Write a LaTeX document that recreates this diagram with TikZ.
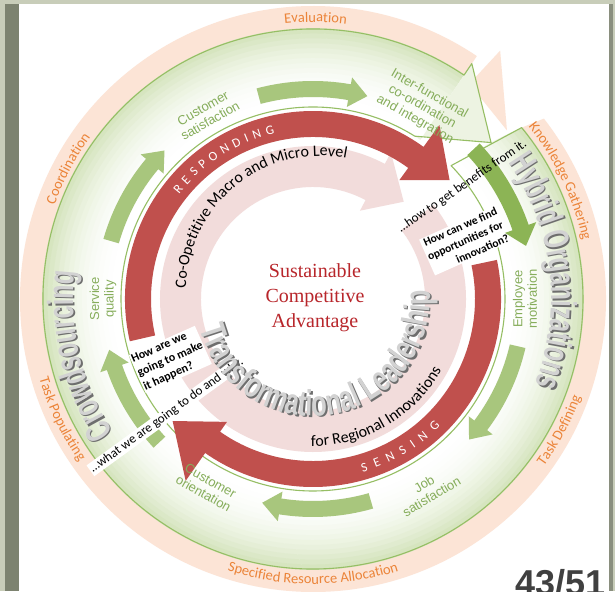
\documentclass[tikz,border=0pt]{standalone}
\usepackage{fontspec}
\setmainfont{Liberation Serif}
\newfontfamily\calfont{Carlito}
\newfontfamily\arialfont{Liberation Sans}
\newfontfamily\archfont[FakeStretch=0.64]{Liberation Sans}
\newfontfamily\archwide[FakeStretch=0.7]{Liberation Sans}
\usetikzlibrary{decorations.text}

\definecolor{framegray}{HTML}{C8CDB9}
\definecolor{framedark}{HTML}{7D8370}
\definecolor{peach}{HTML}{FCE4D6}
\definecolor{bandgreen}{HTML}{D6E5BF}
\definecolor{bandedge}{HTML}{96BE64}
\definecolor{barlight}{HTML}{A8C67D}
\definecolor{bardark}{HTML}{8CB455}
\definecolor{ringred}{HTML}{C0504D}
\definecolor{ringpink}{HTML}{F2DCDB}
\definecolor{labelgreen}{HTML}{86AD5B}
\definecolor{labelorange}{HTML}{EB8439}
\definecolor{centerred}{HTML}{B8262B}
\definecolor{archgray}{HTML}{D2D2D2}
\definecolor{archshadow}{HTML}{6E6E6E}
\definecolor{pagegray}{HTML}{404040}

% ring arrow: start, head base, tip, inner r, outer r, head inner r, head outer r
\newcommand{\ringarrow}[7]{(#1:#5) arc[start angle=#1, end angle=#2, radius=#5] -- (#2:#7) -- (#3:{(#6+#7)/2}) -- (#2:#6) -- (#2:#4) arc[start angle=#2, end angle=#1, radius=#4] -- cycle}
\newcommand{\bandfont}{\calfont\fontsize{14.5}{14.5}\selectfont}
\newcommand{\ringfont}{\calfont\fontsize{16}{16}\selectfont}

\begin{document}
\begin{tikzpicture}[x=1pt, y=1pt,
  greenlabel/.style={font=\arialfont\fontsize{13}{14.5}\selectfont, text=labelgreen, align=center, inner sep=0pt},
  qbox/.style={fill=white, inner sep=1pt, text=black, font=\calfont\fontsize{13}{14}\selectfont},
  qbold/.style={qbox, font=\calfont\bfseries\fontsize{12}{15}\selectfont},
  bandline/.style={draw=bandedge, line width=1.1pt, line join=round}]
\useasboundingbox (0,0) rectangle (615,591);
% slide frame
\fill[framegray] (0,0) rectangle (615,591);
\fill[framedark] (5,0) rectangle (19,587);
\fill[white] (19,0) rectangle (609,587);
\fill[framedark!90] (609,0) rectangle (613,587);

\begin{scope}[shift={(313,292)}]
  % outer band and big arrow head
  \fill[peach] (53:311) -- (41:257) -- (54:266) -- cycle;
  \fill[peach] (56:270) arc[start angle=56, end angle=399.4, radius=270] -- (398:293) arc[start angle=398, end angle=56, radius=293] -- cycle;
  \foreach \k in {0,...,15} {
    \pgfmathsetmacro\ra{192+4.9*\k}
    \pgfmathsetmacro\rb{\ra+5.4}
    \pgfmathsetmacro\ea{404-6*(\ra-192)/101}
    \pgfmathsetmacro\eb{404-6*(\rb-192)/101}
    \pgfmathsetmacro\tint{100*(\k/15)^2}
    \fill[bandgreen!\tint!white] (56:\ra) arc[start angle=56, end angle=\ea, radius=\ra] -- (\eb:\rb) arc[start angle=\eb, end angle=56, radius=\rb] -- cycle;
  }
  \fill[bandgreen!45!white] (58:192) -- (41.3:237) -- (56:284) -- (56:192) -- cycle;
  \draw[bandline] (56:270) arc[start angle=56, end angle=399.4, radius=270] -- (404:192) arc[start angle=404, end angle=58, radius=192] -- (41.3:237) -- (56:284) -- cycle;

  % inner rings
  \fill[ringpink] \ringarrow{38}{-298}{-313}{112}{153}{100}{166};
  \fill[ringred] \ringarrow{193}{54}{41}{162}{188}{147}{215};
  \fill[ringred] \ringarrow{12}{-125}{-139}{162}{188}{150}{222};

  % questions
  \node[qbold, rotate=24, align=right, font=\calfont\bfseries\fontsize{11.5}{14.5}\selectfont] (findopp) at (21:163) {How can we find\\opportunities for\\innovation?};
  \node[qbold, rotate=24, align=left] (makeit) at (203:155) {How are we\\going to make\\it happen?};

  % green cycle
  \foreach \a/\b/\c in {105/80/75, -13/-37/-42, -74/-99/-104, -137/-161/-166, 164/140/135}
    \fill[barlight] \ringarrow{\a}{\b}{\c}{202}{218}{195}{225};
  \fill[bardark] \ringarrow{43}{19}{14}{211}{228}{203}{236};
  \node[qbox, rotate=36] (whatwhy) at (218.5:187) {…what we are going to do and why.};
  \node[qbox, fill=none, rotate=34.6] (benefits) at (37:187) {…how to get benefits from it.};

  \node[greenlabel, rotate=30] (custsat) at (120:213) {Customer\\satisfaction};
  \node[greenlabel, rotate=-29.6] (interfunc) at (60.4:221) {Inter-functional\\co-ordination\\and integration};
  \node[greenlabel, rotate=90] (empmot) at (0:212) {Employee\\motivation};
  \node[greenlabel, rotate=31] (jobsat) at (-59:223) {Job\\satisfaction};
  \node[greenlabel, rotate=-29.4] (custor) at (-119.4:216) {Customer\\orientation};
  \node[greenlabel, rotate=90] (servq) at (180:210) {Service\\quality};

  % outer band labels
  \path[decorate, decoration={text along path, text color=labelorange, text align=center, text={|\bandfont|Evaluation}}] (112:277) arc[start angle=112, end angle=67, radius=277];
  \path[decorate, decoration={text along path, text color=labelorange, text align=center, text={|\bandfont|Coordination}}] (175:275) arc[start angle=175, end angle=129, radius=275];
  \path[decorate, decoration={text along path, text color=labelorange, text align=center, text={|\bandfont|Knowledge Gathering}}] (50:276) arc[start angle=50, end angle=1, radius=276];
  \path[decorate, decoration={text along path, text color=labelorange, text align=center, text={|\bandfont|Task Defining}}] (-50:285) arc[start angle=-50, end angle=-6, radius=285];
  \path[decorate, decoration={text along path, text color=labelorange, text align=center, text={|\bandfont|Specified Resource Allocation}}] (-135:285) arc[start angle=-135, end angle=-45, radius=285];
  \path[decorate, decoration={text along path, text color=labelorange, text align=center, text={|\bandfont|Task Populating}}] (183:285) arc[start angle=183, end angle=228, radius=285];

  % ring labels
  \path[decorate, decoration={text along path, text color=white, text align={fit to path}, text={|\calfont\fontsize{13}{13}\selectfont|RESPONDING}}] (142:170) arc[start angle=142, end angle=103, radius=170];
  \path[decorate, decoration={text along path, text color=white, text align={fit to path}, text={|\calfont\fontsize{13}{13}\selectfont|SENSING}}] (286:180) arc[start angle=286, end angle=315, radius=180];
  \path[shift={(8,8)}, decorate, decoration={text along path, text color=black, text align=center, text={|\ringfont|Co-Opetitive Macro and Micro Level}}] (186:135) arc[start angle=186, end angle=72, radius=135];
  \path[decorate, decoration={text along path, text color=black, text align=center, text={|\ringfont|for Regional Innovations}}] (255:147) arc[start angle=255, end angle=345, radius=147];

  \node[text=centerred, align=center, font=\fontsize{20}{25}\selectfont] (sca) at (2,1) {Sustainable\\Competitive\\Advantage};

  % embossed titles
  \foreach \sx/\sy/\tc in {1.6/-1.6/archshadow, 0/0/archgray} {
    \path[xshift=\sx, yshift=\sy, decorate, decoration={text along path, text color=\tc, text align=center, text={|\archwide\bfseries\fontsize{36}{36}\selectfont|Transformational Leadership}}] (185:117) arc[start angle=185, end angle=374, radius=117];
    \path[xshift=\sx, yshift=\sy, decorate, decoration={text along path, text color=\tc, text align=center, text={|\archfont\bfseries\fontsize{36}{36}\selectfont|Crowdsourcing}}] (222:240) arc[start angle=222, end angle=165, radius=240];
    \path[xshift=\sx, yshift=\sy, decorate, decoration={text along path, text color=\tc, text align=center, text={|\archfont\bfseries\fontsize{36}{36}\selectfont|Hybrid Organizations}}] (45:238) arc[start angle=45, end angle=-31, radius=238];
  }
\end{scope}

\node[anchor=base west, inner sep=0pt, text=pagegray, font=\arialfont\bfseries\fontsize{36}{36}\selectfont] (pagenum) at (515,-4) {43/51};
\end{tikzpicture}
\end{document}
